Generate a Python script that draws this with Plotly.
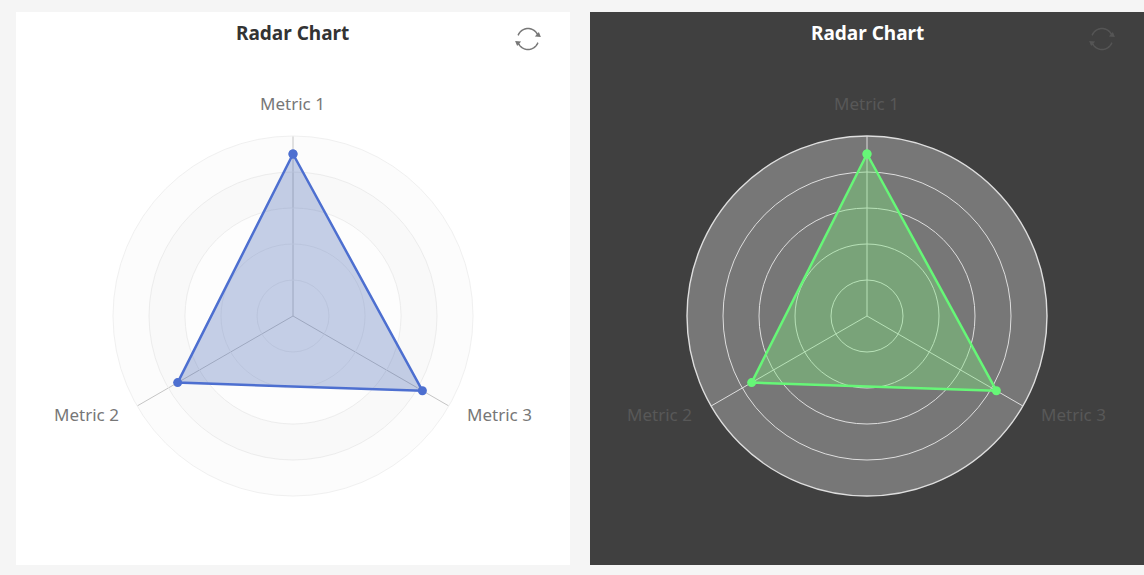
import math

import plotly.graph_objects as go

W, H = 1144, 575

metrics = ["Metric 1", "Metric 2", "Metric 3"]
values_light = [90, 74, 83]
values_dark = [90, 74, 83]

band_tops = [20, 40, 60, 80, 100]
band_light = ["rgba(0,0,0,0.012)", "rgba(0,0,0,0.006)", "rgba(0,0,0,0.006)", "rgba(0,0,0,0.022)", "rgba(0,0,0,0.012)"]


def px(x):
    return x / W


def py(y):
    return 1 - y / H


def panel(x0, x1, color):
    return dict(type="rect", xref="paper", yref="paper", layer="below", line_width=0,
                x0=px(x0), x1=px(x1), y0=py(565), y1=py(12), fillcolor=color)


def refresh_icon(cx, cy, color):
    # two open arcs with small arrow heads
    r = 10.5
    shapes = []
    for a0, a1, head in [(200, 340, 340), (20, 160, 160)]:
        pts = []
        for i in range(25):
            a = math.radians(a0 + (a1 - a0) * i / 24)
            pts.append((cx + r * math.cos(a), cy + r * math.sin(a)))
        path = "M " + " L ".join(f"{px(x):.5f},{py(y):.5f}" for x, y in pts)
        shapes.append(dict(type="path", xref="paper", yref="paper", path=path,
                           line=dict(color=color, width=1.5)))
        a = math.radians(head)
        hx, hy = cx + r * math.cos(a), cy + r * math.sin(a)
        s = 1 if head == 340 else -1
        tri = [(hx - 3 * s, hy + 1 * s), (hx + 3 * s, hy + 1.5 * s), (hx + 1 * s, hy - 3.5 * s)]
        path = "M " + " L ".join(f"{px(x):.5f},{py(y):.5f}" for x, y in tri) + " Z"
        shapes.append(dict(type="path", xref="paper", yref="paper", path=path,
                           fillcolor=color, line_width=0))
    return shapes


def polar_axis(cx, bg, ring, spoke, ring_width):
    return dict(
        domain=dict(x=[px(cx - 180), px(cx + 180)], y=[py(496), py(136)]),
        bgcolor=bg,
        radialaxis=dict(range=[0, 100], tickvals=band_tops, showticklabels=False, ticks="",
                        showline=False, gridcolor=ring, gridwidth=ring_width),
        angularaxis=dict(rotation=90, direction="counterclockwise", type="category",
                         categoryorder="array", categoryarray=metrics, showticklabels=False, ticks="",
                         gridcolor=spoke, gridwidth=ring_width, linecolor=ring, linewidth=ring_width),
    )


def text_at(text, x, y, size, color):
    return dict(text=text, x=px(x), y=py(y), xref="paper", yref="paper", showarrow=False,
                xanchor="center", yanchor="middle", font=dict(family="Noto Sans", size=size, color=color))


fig = go.Figure()

for top, color in zip(band_tops, band_light):
    fig.add_trace(go.Barpolar(r=[20], base=[top - 20], theta=[metrics[0]], width=[3], marker_color=color,
                              marker_line_width=0, subplot="polar", showlegend=False, hoverinfo="skip"))

fig.add_trace(go.Scatterpolar(r=values_light + values_light[:1], theta=metrics + metrics[:1], mode="lines+markers",
                              fill="toself", fillcolor="rgba(65,98,178,0.3)",
                              line=dict(color="#4d6fd0", width=2.5), marker=dict(color="#4d6fd0", size=9),
                              subplot="polar", showlegend=False))
fig.add_trace(go.Scatterpolar(r=values_dark + values_dark[:1], theta=metrics + metrics[:1], mode="lines+markers",
                              fill="toself", fillcolor="rgba(126,229,126,0.4)",
                              line=dict(color="#66f777", width=2.5), marker=dict(color="#66f777", size=9),
                              subplot="polar2", showlegend=False))

annotations = []
for offset, title_color, label_color in [(0, "#333333", "#777777"), (574, "#ffffff", "#585858")]:
    annotations.append(text_at("<b>Radar Chart</b>", 293 + offset, 33, 19, title_color))
    annotations.append(text_at(metrics[0], 292 + offset, 104, 17, label_color))
    annotations.append(text_at(metrics[1], 86 + offset, 414, 17, label_color))
    annotations.append(text_at(metrics[2], 499 + offset, 414, 17, label_color))

fig.update_layout(
    width=W, height=H, margin=dict(l=0, r=0, t=0, b=0),
    paper_bgcolor="#f5f5f5",
    polar=polar_axis(293, "#ffffff", "#f0f0f0", "#c8c8c8", 1),
    polar2=polar_axis(867, "#777777", "#dedede", "#dedede", 1.4),
    shapes=[panel(16, 570, "#ffffff"), panel(590, 1144, "#404040")]
    + refresh_icon(528, 39, "#777777") + refresh_icon(1102, 39, "#555555"),
    annotations=annotations,
    barmode="overlay",
)

fig.write_html("out.html", post_script="document.body.style.margin='0';", config=dict(displayModeBar=False))
